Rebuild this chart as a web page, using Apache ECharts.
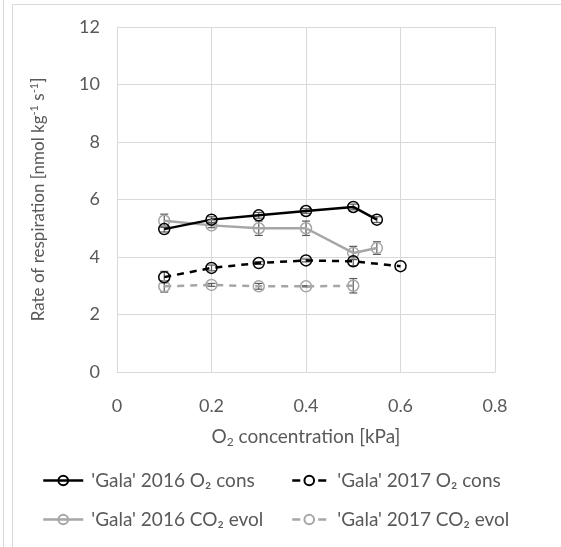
<!DOCTYPE html>
<html><head><meta charset="utf-8">
<script src="https://cdn.jsdelivr.net/npm/echarts@6/dist/echarts.min.js"></script>
<style>html,body{margin:0;padding:0;background:#fff}#c{width:561px;height:547px}</style>
</head><body><div id="c"></div>
<script>
const xO2_2016 = [0.1, 0.2, 0.3, 0.4, 0.5, 0.55];
const o2cons2016 = [4.97, 5.3, 5.45, 5.6, 5.74, 5.3];
const o2cons2016Err = [0.1, 0.1, 0.1, 0.08, 0.1, 0.1];
const xO2_2017 = [0.1, 0.2, 0.3, 0.4, 0.5, 0.6];
const o2cons2017 = [3.3, 3.62, 3.79, 3.88, 3.85, 3.68];
const o2cons2017Err = [0.2, 0.1, 0.05, 0.05, 0.15, 0];
const xCO2_2016 = [0.1, 0.2, 0.3, 0.4, 0.5, 0.55];
const co2evol2016 = [5.26, 5.1, 5.0, 5.0, 4.14, 4.31];
const co2evol2016Err = [0.23, 0.08, 0.25, 0.25, 0.23, 0.22];
const xCO2_2017 = [0.1, 0.2, 0.3, 0.4, 0.5];
const co2evol2017 = [2.98, 3.03, 2.98, 2.98, 3.0];
const co2evol2017Err = [0.2, 0.05, 0.1, 0.02, 0.25];
const yTicks = [0, 2, 4, 6, 8, 10, 12];
const xTicks = [0, 0.2, 0.4, 0.6, 0.8];
const names = ["'Gala' 2016 O\u2082 cons", "'Gala' 2017 O\u2082 cons", "'Gala' 2016 CO\u2082 evol", "'Gala' 2017 CO\u2082 evol"];

const FONT = 'Lato';
const FS = 17;
const chart = echarts.init(document.getElementById('c'));

function pairs(xs, ys) { return xs.map((x, i) => [x, ys[i]]); }
function errData(xs, ys, es) { return xs.map((x, i) => [x, ys[i], es[i]]); }

function errSeries(xs, ys, es, color) {
  return {
    type: 'custom',
    z: 1,
    silent: true,
    data: errData(xs, ys, es),
    renderItem: function (params, api) {
      const x = api.value(0), y = api.value(1), e = api.value(2);
      if (!e) return null;
      const hi = api.coord([x, y + e]);
      const lo = api.coord([x, y - e]);
      const w = 4;
      const st = { stroke: color, lineWidth: 1.2 };
      return {
        type: 'group',
        children: [
          { type: 'line', shape: { x1: hi[0], y1: hi[1], x2: lo[0], y2: lo[1] }, style: st },
          { type: 'line', shape: { x1: hi[0] - w, y1: hi[1], x2: hi[0] + w, y2: hi[1] }, style: st },
          { type: 'line', shape: { x1: lo[0] - w, y1: lo[1], x2: lo[0] + w, y2: lo[1] }, style: st }
        ]
      };
    }
  };
}

function lineSeries(name, data, color, dashed) {
  return {
    name: name,
    type: 'line',
    data: data,
    z: 2,
    symbol: 'circle',
    symbolSize: 11,
    showSymbol: true,
    lineStyle: { color: color, width: 2.5, type: dashed ? [7, 6] : 'solid' },
    itemStyle: { color: 'rgba(255,255,255,0)', borderColor: color, borderWidth: 1.5 },
    emphasis: { disabled: true },
    animation: false
  };
}

const BLACK = '#000000', GRAY = '#a6a6a6';
const legendCommon = {
  orient: 'vertical',
  top: 471,
  itemWidth: 40,
  itemHeight: 12,
  itemGap: 20,
  padding: 0,
  textStyle: { fontFamily: FONT, fontSize: 19, color: '#595959', padding: [0, 0, 0, 3] }
};
function legItem(name, color, dashed) {
  return {
    name: name,
    lineStyle: dashed ? { color: color, width: 2.5, type: [8, 18], dashOffset: -3 } : { color: color, width: 2.5 }
  };
}

chart.setOption({
  animation: false,
  backgroundColor: '#ffffff',
  grid: { left: 117, right: 66, top: 27, bottom: 175 },
  xAxis: {
    type: 'value', min: 0, max: 0.8, interval: 0.2,
    name: '{t|O}{s|2}{t| concentration [kPa]}',
    nameLocation: 'middle', nameGap: 54,
    nameTextStyle: { rich: {
      t: { fontFamily: FONT, fontSize: 19, color: '#595959' },
      s: { fontFamily: FONT, fontSize: 12, color: '#595959', verticalAlign: 'bottom', padding: [10, 0, 0, 0] }
    } },
    axisLine: { lineStyle: { color: '#d9d9d9', width: 1 } },
    axisTick: { show: false },
    axisLabel: { fontFamily: FONT, fontSize: 18, color: '#595959', margin: 25,
      formatter: v => xTicks.includes(+v.toFixed(1)) ? String(+v.toFixed(1)) : '' },
    splitLine: { show: true, lineStyle: { color: '#d9d9d9', width: 1 } }
  },
  yAxis: {
    type: 'value', min: 0, max: 12, interval: 2,
    name: '{t|Rate of respiration [nmol kg}{s|-1}{t| s}{s|-1}{t|]}',
    nameLocation: 'middle', nameGap: 68, nameRotate: 90,
    nameTextStyle: { rich: {
      t: { fontFamily: FONT, fontSize: FS, color: '#595959' },
      s: { fontFamily: FONT, fontSize: 11, color: '#595959', verticalAlign: 'top', padding: [0, 0, 9, 0] }
    } },
    axisLine: { show: true, lineStyle: { color: '#d9d9d9', width: 1 } },
    axisTick: { show: false },
    axisLabel: { fontFamily: FONT, fontSize: 18, color: '#595959', margin: 17,
      formatter: v => yTicks.includes(v) ? String(v) : '' },
    splitLine: { show: true, lineStyle: { color: '#d9d9d9', width: 1 } }
  },
  legend: [
    Object.assign({}, legendCommon, { left: 42, data: [legItem(names[0], BLACK, false), legItem(names[2], GRAY, false)] }),
    Object.assign({}, legendCommon, { left: 288, data: [legItem(names[1], BLACK, true), legItem(names[3], GRAY, true)] })
  ],
  graphic: [
    { type: 'line', shape: { x1: 3.5, y1: 0, x2: 3.5, y2: 547 }, style: { stroke: '#d9d9d9', lineWidth: 1 } },
    { type: 'line', shape: { x1: 12.5, y1: 4.5, x2: 12.5, y2: 547 }, style: { stroke: '#d9d9d9', lineWidth: 1 } },
    { type: 'line', shape: { x1: 12.5, y1: 4.5, x2: 561, y2: 4.5 }, style: { stroke: '#d9d9d9', lineWidth: 1 } }
  ],
  series: [
    errSeries(xCO2_2017, co2evol2017, co2evol2017Err, '#595959'),
    errSeries(xCO2_2016, co2evol2016, co2evol2016Err, '#595959'),
    errSeries(xO2_2017, o2cons2017, o2cons2017Err, '#595959'),
    errSeries(xO2_2016, o2cons2016, o2cons2016Err, '#595959'),
    lineSeries(names[3], pairs(xCO2_2017, co2evol2017), GRAY, true),
    lineSeries(names[2], pairs(xCO2_2016, co2evol2016), GRAY, false),
    lineSeries(names[1], pairs(xO2_2017, o2cons2017), BLACK, true),
    lineSeries(names[0], pairs(xO2_2016, o2cons2016), BLACK, false)
  ]
});
</script></body></html>
